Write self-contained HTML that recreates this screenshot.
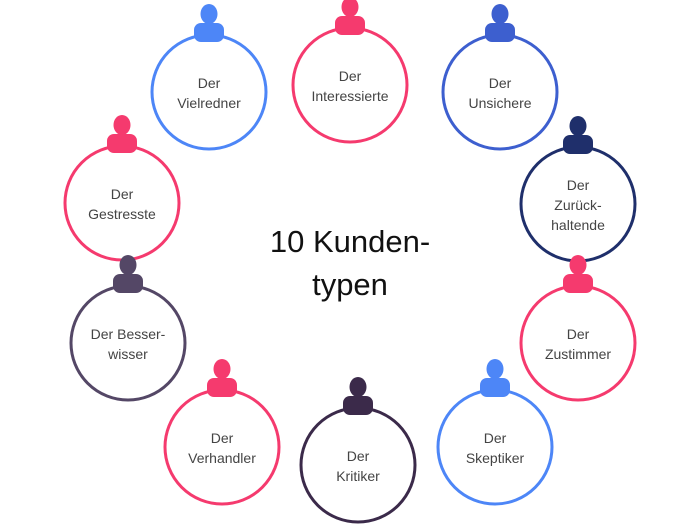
<!DOCTYPE html>
<html><head><meta charset="utf-8"><style>
html,body{margin:0;padding:0;background:#fff;}
svg{display:block;}
text{font-family:"Liberation Sans",sans-serif;fill:#444;font-size:14px;text-anchor:middle;}
</style></head><body>
<svg width="700" height="525" viewBox="0 0 700 525">
<defs>
<g id="p">
<ellipse cx="0" cy="-21" rx="8.5" ry="10"/>
<rect x="-15" y="-12" width="30" height="19" rx="7"/>
</g>
</defs>
<g fill="#fff" stroke-width="3">
<circle cx="209" cy="92" r="57" stroke="#4d86f7"/>
<circle cx="350" cy="85" r="57" stroke="#f53a6e"/>
<circle cx="500" cy="92" r="57" stroke="#3d5fcf"/>
<circle cx="578" cy="204" r="57" stroke="#1f2f6b"/>
<circle cx="578" cy="343" r="57" stroke="#f53a6e"/>
<circle cx="495" cy="447" r="57" stroke="#4d86f7"/>
<circle cx="358" cy="465" r="57" stroke="#3b2a4a"/>
<circle cx="222" cy="447" r="57" stroke="#f53a6e"/>
<circle cx="128" cy="343" r="57" stroke="#544766"/>
<circle cx="122" cy="203" r="57" stroke="#f53a6e"/>
</g>
<use href="#p" x="209" y="35" fill="#4d86f7"/>
<use href="#p" x="350" y="28" fill="#f53a6e"/>
<use href="#p" x="500" y="35" fill="#3d5fcf"/>
<use href="#p" x="578" y="147" fill="#1f2f6b"/>
<use href="#p" x="578" y="286" fill="#f53a6e"/>
<use href="#p" x="495" y="390" fill="#4d86f7"/>
<use href="#p" x="358" y="408" fill="#3b2a4a"/>
<use href="#p" x="222" y="390" fill="#f53a6e"/>
<use href="#p" x="128" y="286" fill="#544766"/>
<use href="#p" x="122" y="146" fill="#f53a6e"/>
<text x="209" y="88">Der</text><text x="209" y="108">Vielredner</text>
<text x="350" y="81">Der</text><text x="350" y="101">Interessierte</text>
<text x="500" y="88">Der</text><text x="500" y="108">Unsichere</text>
<text x="578" y="190">Der</text><text x="578" y="210">Zurück-</text><text x="578" y="230">haltende</text>
<text x="578" y="339">Der</text><text x="578" y="359">Zustimmer</text>
<text x="495" y="443">Der</text><text x="495" y="463">Skeptiker</text>
<text x="358" y="461">Der</text><text x="358" y="481">Kritiker</text>
<text x="222" y="443">Der</text><text x="222" y="463">Verhandler</text>
<text x="128" y="339">Der Besser-</text><text x="128" y="359">wisser</text>
<text x="122" y="199">Der</text><text x="122" y="219">Gestresste</text>
<text x="350" y="252" style="font-size:31px;fill:#111">10 Kunden-</text>
<text x="350" y="295" style="font-size:31px;fill:#111">typen</text>
</svg>
</body></html>
